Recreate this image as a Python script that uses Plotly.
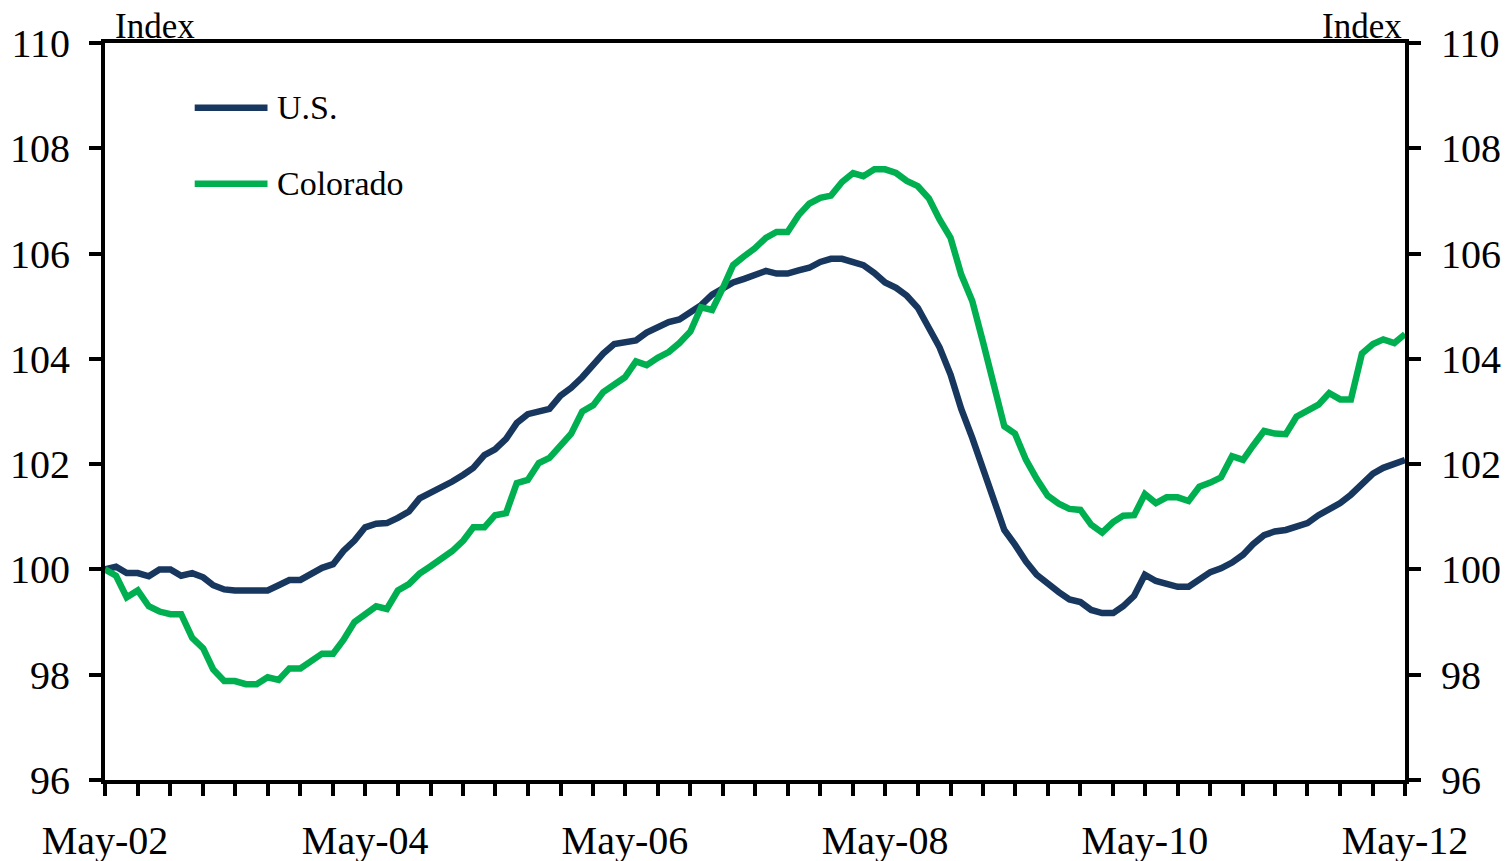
import plotly.graph_objects as go
import pandas as pd

# Monthly index values, May-2002 .. May-2012
months = pd.date_range("2002-05-01", "2012-05-01", freq="MS")

us = [
    100.0, 100.05, 99.93, 99.93, 99.87, 100.0, 100.0, 99.88, 99.93, 99.85,
    99.7, 99.62, 99.6, 99.6, 99.63, 99.6, 99.7, 99.8, 99.8, 99.93,
    100.03, 100.1, 100.35, 100.55, 100.8, 100.87, 100.88, 100.98, 101.1, 101.35,
    101.45, 101.55, 101.67, 101.8, 101.93, 102.17, 102.28, 102.48, 102.78, 102.95,
    103.0, 103.05, 103.3, 103.45, 103.65, 103.9, 104.1, 104.28, 104.3, 104.35,
    104.5, 104.6, 104.7, 104.75, 104.88, 105.02, 105.22, 105.35, 105.45, 105.52,
    105.6, 105.67, 105.62, 105.62, 105.68, 105.73, 105.84, 105.9, 105.9, 105.85,
    105.78, 105.63, 105.45, 105.35, 105.2, 104.97, 104.6, 104.22, 103.7, 103.05,
    102.5, 101.9, 101.3, 100.75, 100.47, 100.15, 99.9, 99.72, 99.57, 99.43,
    99.38, 99.23, 99.17, 99.17, 99.3, 99.5, 99.9, 99.78, 99.72, 99.67,
    99.67, 99.8, 99.95, 100.02, 100.13, 100.28, 100.48, 100.65, 100.72, 100.75,
    100.82, 100.88, 101.03, 101.15, 101.26, 101.42, 101.6, 101.82, 101.93, 102.02,
    102.08,
]

colorado = [
    100.0, 99.88, 99.47, 99.6, 99.3, 99.2, 99.15, 99.15, 98.7, 98.5,
    98.1, 97.88, 97.88, 97.82, 97.82, 97.95, 97.9, 98.12, 98.12, 98.27,
    98.4, 98.4, 98.66, 99.0, 99.15, 99.3, 99.25, 99.6, 99.72, 99.92,
    100.06, 100.2, 100.35, 100.55, 100.8, 100.8, 101.03, 101.07, 101.64, 101.7,
    102.02, 102.12, 102.35, 102.58, 103.0, 103.12, 103.37, 103.5, 103.65, 103.95,
    103.88, 104.02, 104.13, 104.3, 104.52, 104.98, 104.93, 105.36, 105.78, 105.95,
    106.1, 106.3, 106.41, 106.41, 106.73, 106.95, 107.06, 107.1, 107.36, 107.53,
    107.47, 107.6, 107.6, 107.53, 107.38, 107.28, 107.05, 106.65, 106.3, 105.6,
    105.1, 104.3, 103.6, 102.72, 102.58, 102.08, 101.72, 101.4, 101.25, 101.15,
    101.13, 100.85, 100.7, 100.9, 101.02, 101.03, 101.43, 101.26, 101.37, 101.37,
    101.3, 101.57, 101.65, 101.75, 102.15, 102.08, 102.35, 102.63, 102.58, 102.57,
    102.9, 103.02, 103.13, 103.35, 103.23, 103.23, 104.1, 104.28, 104.37, 104.3,
    104.47,
]

y_ticks = [96, 98, 100, 102, 104, 106, 108, 110]
x_tick_dates = months[::3]                      # quarterly tick marks
x_tick_text = [d.strftime("%b-%y") if i % 8 == 0 else "" for i, d in enumerate(x_tick_dates)]
series_names = ["U.S.", "Colorado"]
series_colors = ["#17375E", "#00B050"]

FONT = "Liberation Serif"
y_range = [96, 110]

fig = go.Figure()
for name, vals, col in zip(series_names, [us, colorado], series_colors):
    fig.add_trace(go.Scatter(x=months, y=vals, mode="lines", name=name,
                             line=dict(color=col, width=6.5), showlegend=False))

# invisible copy to keep the right axis alive
fig.add_trace(go.Scatter(x=months, y=us, yaxis="y2", mode="lines",
                         line=dict(width=0), opacity=0, hoverinfo="skip",
                         showlegend=False))

axis_common = dict(showgrid=False, zeroline=False, automargin=False,
                   showline=True, linewidth=4, linecolor="black",
                   ticks="outside", ticklen=12, tickwidth=4, tickcolor="black",
                   tickfont=dict(family=FONT, size=40, color="black"))

# page body adds an ~8px offset, so margins are compensated
fig.update_layout(
    width=1510, height=861,
    margin=dict(l=97, r=113, t=35, b=89),
    paper_bgcolor="white", plot_bgcolor="white",
    font=dict(family=FONT, size=36, color="black"),
    xaxis=dict(range=[months[0], months[-1]], mirror=True,
               tickmode="array", tickvals=x_tick_dates, ticktext=x_tick_text,
               ticklabelstandoff=10, **axis_common),
    yaxis=dict(range=y_range, tickvals=y_ticks, ticklabelstandoff=11, **axis_common),
    yaxis2=dict(range=y_range, tickvals=y_ticks, overlaying="y", side="right",
                ticklabelstandoff=12, **axis_common),
)

# axis unit titles
for xpos, anchor in [(0.0075, "left"), (0.998, "right")]:
    fig.add_annotation(text="Index", xref="paper", yref="paper", x=xpos, y=1.0,
                       xanchor=anchor, yanchor="middle", yshift=17, showarrow=False,
                       borderpad=0, borderwidth=0,
                       font=dict(family=FONT, size=35))

# legend (manual, long line keys)
for k, (name, col) in enumerate(zip(series_names, series_colors)):
    ly = 0.912 - k * 0.103
    fig.add_shape(type="line", xref="paper", yref="paper",
                  x0=0.069, x1=0.125, y0=ly, y1=ly,
                  line=dict(color=col, width=6.5))
    fig.add_annotation(text=name, xref="paper", yref="paper", x=0.131, y=ly,
                       xanchor="left", yanchor="middle", showarrow=False,
                       font=dict(family=FONT, size=34))

fig.write_html("out.html", config={"displayModeBar": False})
